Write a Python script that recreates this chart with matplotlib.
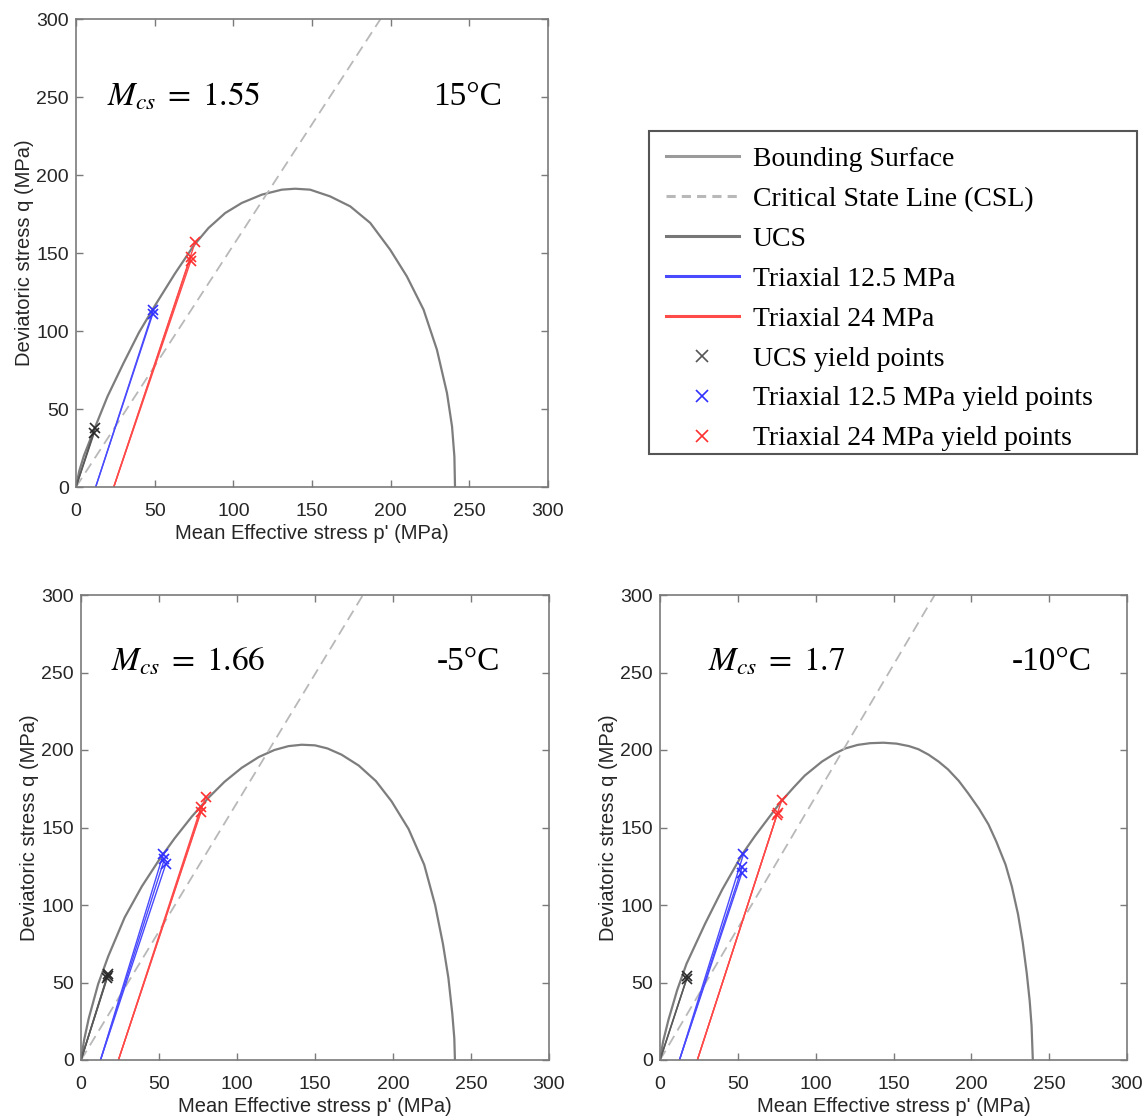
import matplotlib
matplotlib.use('Agg')
import matplotlib.pyplot as plt
from matplotlib.lines import Line2D
from matplotlib.patches import Rectangle

plt.rcParams['font.family'] = ['Liberation Sans', 'DejaVu Sans']
plt.rcParams['mathtext.fontset'] = 'stix'

# ---------------- data ----------------
axis_ticks = [0, 50, 100, 150, 200, 250, 300]

# Panel 15°C
bs_p_15 = [0, 2, 5, 12, 20, 30, 40, 50, 63, 75, 84.2, 94.8, 105.4, 118.1, 130.8, 139.3,
           148.8, 161.5, 174.3, 187.0, 199.7, 210.3, 220.9, 229.4, 235.8, 239.0, 240.5, 240.9]
bs_q_15 = [0, 10, 20, 38, 58, 79, 99, 116, 137, 155, 166.0, 175.6, 182.1, 187.4, 190.6, 191.2,
           190.6, 186.3, 179.9, 169.3, 152.1, 135.0, 113.7, 88.0, 60.2, 38.8, 19.6, 0]
m_cs_15 = 1.55
ucs_p_15 = [11.5, 12.1]
ucs_q_15 = [34.6, 37.8]
tx12_p_15 = [48.8, 49.2]
tx12_q_15 = [111.0, 113.7]
tx24_p_15 = [72.9, 72.9, 75.7]
tx24_q_15 = [144.7, 147.4, 156.8]

# Panel -5°C
bs_p_m5 = [0, 2, 5, 11, 17.5, 28, 39, 50, 60, 71, 82, 92, 103, 114, 124, 133, 141.5, 150, 158, 167,
           178, 189, 199, 210, 220, 227, 232, 235.5, 238, 239.3, 239.7]
bs_q_m5 = [0, 13, 27, 49, 67, 92, 112, 129, 143, 157, 169.5, 179.5, 188.5, 195.5, 200, 202.5, 203.4, 203,
           201, 197, 190, 180, 167, 149, 126, 100, 75, 53, 30, 14, 0]
m_cs_m5 = 1.66
ucs_p_m5 = [16.7, 17.1, 17.3]
ucs_q_m5 = [52.6, 54.5, 55.8]
tx12_p_m5 = [52.8, 53.4, 54.3]
tx12_q_m5 = [133.0, 129.4, 126.2]
tx24_p_m5 = [76.9, 76.9, 79.9]
tx24_q_m5 = [160.0, 163.0, 170.0]

# Panel -10°C
bs_p_m10 = [0, 2, 5.4, 11, 17, 29, 40, 53, 61, 70, 78, 86, 93, 104, 112, 119, 127, 135, 143.5, 152,
            160, 166, 172.5, 179, 185, 192, 198, 205, 211, 216, 222, 226, 230, 233, 235.6, 237.5,
            238.7, 239.5]
bs_q_m10 = [0, 12, 25.8, 45, 62, 88, 110, 133, 144.5, 156.5, 167, 176, 183.5, 192.5, 197.5, 201, 203.3,
            204.4, 204.7, 204.1, 202.5, 200.5, 197, 192.5, 187.5, 180, 172, 162, 152, 141, 126, 112,
            94, 76, 56, 38, 22, 0]
m_cs_m10 = 1.7
ucs_p_m10 = [17.2, 17.6]
ucs_q_m10 = [52.5, 54.0]
tx12_p_m10 = [52.5, 52.9, 53.6]
tx12_q_m10 = [120.4, 124.7, 132.7]
tx24_p_m10 = [75.0, 75.6, 78.2]
tx24_q_m10 = [158.0, 159.5, 167.7]

confining = {'ucs': 0.0, 'tx12': 12.5, 'tx24': 24.0}

temps = ['15°C', '-5°C', '-10°C']
mcs_labels = ['1.55', '1.66', '1.7']

legend_labels = ['Bounding Surface', 'Critical State Line (CSL)', 'UCS', 'Triaxial 12.5 MPa',
                 'Triaxial 24 MPa', 'UCS yield points', 'Triaxial 12.5 MPa yield points',
                 'Triaxial 24 MPa yield points']

panels = [
    dict(bs_p=bs_p_15, bs_q=bs_q_15, m=m_cs_15, ucs=(ucs_p_15, ucs_q_15), tx12=(tx12_p_15, tx12_q_15),
         tx24=(tx24_p_15, tx24_q_15), temp=temps[0], mcs=mcs_labels[0]),
    dict(bs_p=bs_p_m5, bs_q=bs_q_m5, m=m_cs_m5, ucs=(ucs_p_m5, ucs_q_m5), tx12=(tx12_p_m5, tx12_q_m5),
         tx24=(tx24_p_m5, tx24_q_m5), temp=temps[1], mcs=mcs_labels[1]),
    dict(bs_p=bs_p_m10, bs_q=bs_q_m10, m=m_cs_m10, ucs=(ucs_p_m10, ucs_q_m10), tx12=(tx12_p_m10, tx12_q_m10),
         tx24=(tx24_p_m10, tx24_q_m10), temp=temps[2], mcs=mcs_labels[2]),
]

# ---------------- styling ----------------
c_bs = '#7d7d7d'
c_csl = '#b8b8b8'
c_ucs = '#5a5a5a'
c_blue = '#4a4aff'
c_red = '#ff4a4a'
c_ucs_m = '#2a2a2a'
c_blue_m = '#3030ff'
c_red_m = '#ff3030'
c_spine = '#7a7a7a'

W, H = 1146, 1116
fig = plt.figure(figsize=(W / 100, H / 100), dpi=100)


def rect(l, r, t, b):
    return [l / W, 1 - b / H, (r - l) / W, (b - t) / H]


axes = [fig.add_axes(rect(76, 548, 19, 487)),
        fig.add_axes(rect(81, 549, 595, 1060)),
        fig.add_axes(rect(660, 1127, 595, 1060))]

text_pos = [(20, 250, 227), (19, 257, 228), (31, 257, 226)]

for ax, pn, tp in zip(axes, panels, text_pos):
    ax.plot(pn['bs_p'], pn['bs_q'], color=c_bs, lw=1.6, solid_joinstyle='round')
    p_end = 300 / pn['m']
    ax.plot([0, p_end], [0, pn['m'] * p_end], color=c_csl, lw=1.3, linestyle=(0, (6, 3.5)))
    for pp, qq in zip(*pn['ucs']):
        ax.plot([confining['ucs'], pp], [0, qq], color=c_ucs, lw=1.1)
    for pp, qq in zip(*pn['tx12']):
        ax.plot([confining['tx12'], pp], [0, qq], color=c_blue, lw=1.0)
    for pp, qq in zip(*pn['tx24']):
        ax.plot([confining['tx24'], pp], [0, qq], color=c_red, lw=1.0)
    ax.plot(pn['ucs'][0], pn['ucs'][1], 'x', color=c_ucs_m, ms=7, mew=1.2, linestyle='none')
    ax.plot(pn['tx12'][0], pn['tx12'][1], 'x', color=c_blue_m, ms=7, mew=1.2, linestyle='none')
    ax.plot(pn['tx24'][0], pn['tx24'][1], 'x', color=c_red_m, ms=7, mew=1.2, linestyle='none')

    ax.set_xlim(0, 300)
    ax.set_ylim(0, 300)
    ax.set_xticks(axis_ticks)
    ax.set_yticks(axis_ticks)
    ax.tick_params(direction='in', top=True, right=True, length=5, width=1.0, color=c_spine,
                   labelsize=14, labelcolor='#262626')
    ax.tick_params(axis='x', pad=11.5)
    ax.tick_params(axis='y', pad=5)
    for s in ax.spines.values():
        s.set_color(c_spine)
        s.set_linewidth(1.2)
    ax.set_xlabel("Mean Effective stress p' (MPa)", fontsize=14.5, color='#262626', labelpad=3)
    ax.set_ylabel("Deviatoric stress q (MPa)", fontsize=14.5, color='#262626', labelpad=2)
    ax.text(tp[0], tp[1], r'$M_{cs}\;=\;$' + r'$' + pn['mcs'] + r'$', fontsize=24, va='center', ha='left')
    ax.text(tp[2], tp[1], pn['temp'], fontsize=24, va='center', ha='left', family='Liberation Serif')

leg_handles = [
    Line2D([], [], color='#9a9a9a', lw=2.2),
    Line2D([], [], color=c_csl, lw=2.2, linestyle=(0, (3, 2))),
    Line2D([], [], color='#777777', lw=2.2),
    Line2D([], [], color=c_blue, lw=2.2),
    Line2D([], [], color=c_red, lw=2.2),
    Line2D([], [], color='#555555', marker='x', linestyle='none', ms=8, mew=1.2),
    Line2D([], [], color=c_blue_m, marker='x', linestyle='none', ms=8, mew=1.2),
    Line2D([], [], color=c_red_m, marker='x', linestyle='none', ms=8, mew=1.2),
]
leg = fig.legend(leg_handles, legend_labels, loc='upper left',
                 bbox_to_anchor=(649 / W, 1 - 130 / H, (1137 - 649) / W, 0.0), mode='expand',
                 prop={'family': 'Liberation Serif', 'size': 20}, frameon=False,
                 handlelength=2.63, handletextpad=0.5, labelspacing=0.52,
                 borderpad=0.6, borderaxespad=0, numpoints=1)
frame = Rectangle((649 / W, 1 - 454 / H), (1137 - 649) / W, (454 - 131) / H, transform=fig.transFigure,
                  fill=False, edgecolor='#555555', lw=1.5)
fig.add_artist(frame)

fig.savefig('out.png', dpi=100)
